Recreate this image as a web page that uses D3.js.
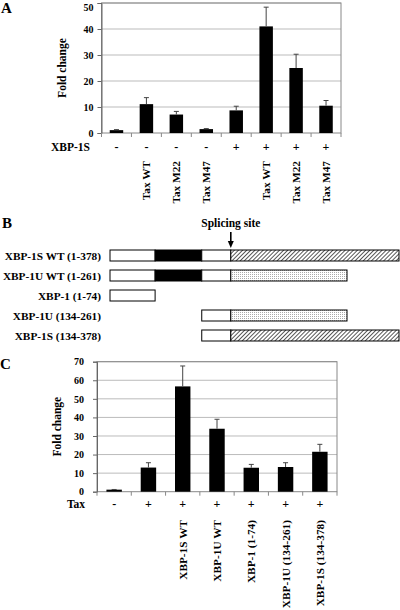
<!DOCTYPE html>
<html><head><meta charset="utf-8">
<script src="https://cdn.jsdelivr.net/npm/d3@7"></script>
<style>
body{margin:0;background:#fff;}
text{font-family:"Liberation Serif","Times New Roman",serif;font-weight:bold;fill:#000;}
</style></head>
<body><svg id="c" width="400" height="610"></svg>
<script>
// ---------- Data ----------
const aLabels = ["", "Tax WT", "Tax M22", "Tax M47", "", "Tax WT", "Tax M22", "Tax M47"];
const aXbp = ["-", "-", "-", "-", "+", "+", "+", "+"];
const aValues = [1.1, 11.1, 7.1, 1.5, 8.7, 41.0, 25.0, 10.5];
const aErrTop = [1.3, 13.6, 8.3, 1.7, 10.3, 48.4, 30.3, 12.5];
const aTicks = [0, 10, 20, 30, 40, 50];

const bRows = ["XBP-1S WT (1-378)", "XBP-1U WT (1-261)", "XBP-1 (1-74)", "XBP-1U (134-261)", "XBP-1S (134-378)"];
// segments: [row, start, end, fill type] in diagram units
const bSegments = [
  [0, 0, 59, "white"], [0, 59, 120, "black"], [0, 120, 158, "white"], [0, 158, 378, "hatch"],
  [1, 0, 59, "white"], [1, 59, 120, "black"], [1, 120, 158, "white"], [1, 158, 310, "dots"],
  [2, 0, 59, "white"],
  [3, 120, 158, "white"], [3, 158, 310, "dots"],
  [4, 120, 158, "white"], [4, 158, 378, "hatch"]
];
const bSplice = 158;
const bDomain = [0, 378];

const cLabels = ["", "", "XBP-1S WT", "XBP-1U WT", "XBP-1 (1-74)", "XBP-1U (134-261)", "XBP-1S (134-378)"];
const cTax = ["-", "+", "+", "+", "+", "+", "+"];
const cValues = [1.1, 13.0, 56.7, 33.9, 12.9, 13.3, 21.5];
const cErrTop = [1.2, 15.6, 67.7, 39.0, 14.7, 15.6, 25.5];
const cTicks = [0, 10, 20, 30, 40, 50, 60, 70];

// ---------- Drawing ----------
const svg = d3.select("#c");
const defs = svg.append("defs");
const hp = defs.append("pattern").attr("id","hatch").attr("patternUnits","userSpaceOnUse")
  .attr("width",2.9).attr("height",2.9).attr("patternTransform","rotate(45)");
hp.append("rect").attr("width",2.9).attr("height",2.9).attr("fill","#fff");
hp.append("line").attr("x1",0).attr("y1",0).attr("x2",0).attr("y2",2.9).attr("stroke","#000").attr("stroke-width",1.3);
const dp = defs.append("pattern").attr("id","dots").attr("patternUnits","userSpaceOnUse")
  .attr("width",2).attr("height",2);
dp.append("rect").attr("width",2).attr("height",2).attr("fill","#fff");
dp.append("rect").attr("width",1).attr("height",1).attr("fill","#aaa");

function panelLetter(t, x, y){
  svg.append("text").attr("x",x).attr("y",y).attr("font-size",15).text(t);
}

function barPanel(o){
  const g = svg.append("g");
  const x = d3.scaleBand().domain(d3.range(o.values.length)).range([o.x0,o.x1])
    .paddingInner(0.55).paddingOuter(0.275);
  const y = d3.scaleLinear().domain([0, o.max]).range([o.y0, o.y1]);
  // gridlines
  g.selectAll(".grid").data(o.ticks.slice(1)).join("line")
    .attr("x1",o.x0).attr("x2",o.x1).attr("y1",d=>y(d)).attr("y2",d=>y(d))
    .attr("stroke","#bbb").attr("stroke-width",1);
  // frame
  g.append("rect").attr("x",o.x0).attr("y",o.y1).attr("width",o.x1-o.x0).attr("height",o.y0-o.y1)
    .attr("fill","none").attr("stroke","#888").attr("stroke-width",1);
  // y axis
  const ya = g.append("g").attr("transform",`translate(${o.x0},0)`)
    .call(d3.axisLeft(y).tickValues(o.ticks).tickSize(4).tickPadding(o.tickPad).tickFormat(d3.format("d")));
  ya.select(".domain").attr("stroke","#666");
  ya.selectAll(".tick line").attr("stroke","#666");
  ya.selectAll("text").attr("font-size",10).attr("font-family","Liberation Serif").attr("font-weight","bold").attr("fill","#000")
    .attr("dy", d => (y(d) < 8 ? "0.75em" : "0.32em"));
  // x ticks at category boundaries
  const step = x.step();
  g.selectAll(".xt").data(d3.range(o.values.length+1)).join("line")
    .attr("x1",i=>o.x0+i*step).attr("x2",i=>o.x0+i*step).attr("y1",o.y0).attr("y2",o.y0+4)
    .attr("stroke","#888");
  // bars
  g.selectAll(".bar").data(o.values).join("rect")
    .attr("x",(d,i)=>x(i)).attr("width",x.bandwidth())
    .attr("y",d=>y(d)).attr("height",d=>o.y0-y(d)).attr("fill","#000");
  // error bars
  g.selectAll(".err").data(o.err).join("line")
    .attr("x1",(d,i)=>x(i)+x.bandwidth()/2).attr("x2",(d,i)=>x(i)+x.bandwidth()/2)
    .attr("y1",(d,i)=>y(o.values[i])).attr("y2",d=>y(d)).attr("stroke","#444").attr("stroke-width",1);
  g.selectAll(".cap").data(o.err).join("line")
    .attr("x1",(d,i)=>x(i)+x.bandwidth()/2-2.5).attr("x2",(d,i)=>x(i)+x.bandwidth()/2+2.5)
    .attr("y1",d=>y(d)).attr("y2",d=>y(d)).attr("stroke","#444").attr("stroke-width",1);
  // y title
  g.append("text").attr("transform",`translate(${o.titleX},${(o.y0+o.y1)/2}) rotate(-90)`)
    .attr("text-anchor","middle").attr("font-size",11.5).text("Fold change");
  // sign row
  g.append("text").attr("x",o.signLabelX).attr("y",o.signY).attr("text-anchor","end")
    .attr("font-size",11.5).text(o.signLabel);
  g.selectAll(".sign").data(o.signs).join("text")
    .attr("x",(d,i)=>x(i)+x.bandwidth()/2).attr("y",o.signY).attr("text-anchor","middle")
    .attr("font-size",12).text(d=>d);
  // rotated category labels
  g.selectAll(".cl").data(o.labels).join("text")
    .attr("transform",(d,i)=>`translate(${x(i)+x.bandwidth()/2+4},${o.labelTop}) rotate(-90)`)
    .attr("text-anchor","end").attr("font-size",11.3).text(d=>d);
}

// Panel A
panelLetter("A", 1, 13);
barPanel({values:aValues, err:aErrTop, ticks:aTicks, max:50, x0:101.5, x1:341, y0:133, y1:3,
  tickPad:4, titleX:66, signLabel:"XBP-1S", signLabelX:90, signY:151, signs:aXbp, labels:aLabels, labelTop:161});

// Panel B
panelLetter("B", 2, 228);
const bx = d3.scaleLinear().domain(bDomain).range([110, 399]);
const by = d3.scaleBand().domain(d3.range(bRows.length)).range([250, 341]).paddingInner(0.45).paddingOuter(0);
const fillOf = t => t==="white" ? "#fff" : t==="black" ? "#000" : t==="hatch" ? "url(#hatch)" : "url(#dots)";
svg.append("g").selectAll("rect").data(bSegments).join("rect")
  .attr("x",d=>bx(d[1])).attr("width",d=>bx(d[2])-bx(d[1]))
  .attr("y",d=>by(d[0])).attr("height",by.bandwidth())
  .attr("fill",d=>fillOf(d[3])).attr("stroke","#000").attr("stroke-width",1);
svg.append("g").selectAll("text").data(bRows).join("text")
  .attr("x",101).attr("y",(d,i)=>by(i)+by.bandwidth()/2+4).attr("text-anchor","end")
  .attr("font-size",11.3).text(d=>d);
svg.append("text").attr("x",bx(bSplice)).attr("y",227).attr("text-anchor","middle").attr("font-size",11.5).text("Splicing site");
svg.append("line").attr("x1",bx(bSplice)).attr("x2",bx(bSplice)).attr("y1",232).attr("y2",243)
  .attr("stroke","#000").attr("stroke-width",1.6);
svg.append("path").attr("d",`M${bx(bSplice)-3},241 L${bx(bSplice)+3},241 L${bx(bSplice)},248 Z`).attr("fill","#000");

// Panel C
panelLetter("C", 0, 369);
barPanel({values:cValues, err:cErrTop, ticks:cTicks, max:70, x0:97, x1:337, y0:491.7, y1:361.7,
  tickPad:9, titleX:61, signLabel:"Tax", signLabelX:85, signY:508, signs:cTax, labels:cLabels, labelTop:520});
</script></body></html>
